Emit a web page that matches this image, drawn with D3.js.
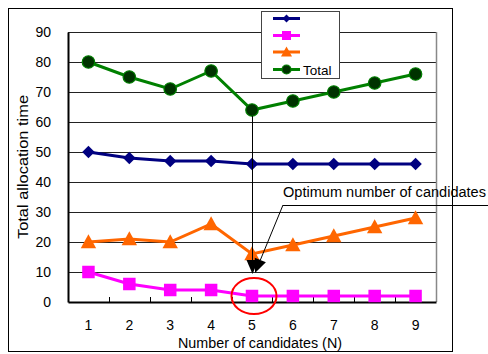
<!DOCTYPE html>
<html><head><meta charset="utf-8">
<script src="https://cdn.jsdelivr.net/npm/d3@7"></script>
<style>html,body{margin:0;padding:0;background:#fff}svg{display:block}</style>
</head><body>
<script>
const categories = [1,2,3,4,5,6,7,8,9];
const blueValues = [50,48,47,47,46,46,46,46,46];
const magentaValues = [10,6,4,4,2,2,2,2,2];
const orangeValues = [20,21,20,26,16,19,22,25,28];
const totalValues = [80,75,71,77,64,67,70,73,76];
const seriesNames = ["", "", "", "Total"];
const yTicks = [0,10,20,30,40,50,60,70,80,90];
const optimumN = 5;

const W = 488, H = 354;
const L = 68, R = 436, T = 32, B = 302;
const font = "'Liberation Sans', Arial, sans-serif";

const svg = d3.select("body").append("svg").attr("width", W).attr("height", H);
svg.append("rect").attr("width", W).attr("height", H).attr("fill", "#fff");
// outer frame
svg.append("rect").attr("x", 8.5).attr("y", 8.5).attr("width", 444).attr("height", 343)
  .attr("fill", "none").attr("stroke", "#000").attr("stroke-width", 1);

const x = d3.scaleBand().domain(categories).range([L, R]);
const y = d3.scaleLinear().domain([0, 90]).range([B, T]);
const cx = d => x(d) + x.bandwidth() / 2;

// gridlines
svg.append("g").selectAll("line").data(yTicks.filter(v => v > 0)).join("line")
  .attr("x1", L).attr("x2", R).attr("y1", d => Math.round(y(d)) + 0.5).attr("y2", d => Math.round(y(d)) + 0.5)
  .attr("stroke", "#222").attr("stroke-width", 1);
// right border (gray)
svg.append("line").attr("x1", R + 0.5).attr("x2", R + 0.5).attr("y1", T).attr("y2", B)
  .attr("stroke", "#888").attr("stroke-width", 1.5);

// y axis
const yAxis = d3.axisLeft(y).tickValues(yTicks).tickSize(0).tickPadding(17);
const gy = svg.append("g").attr("transform", `translate(${L},0)`).call(yAxis);
gy.select(".domain").attr("stroke", "#000").attr("stroke-width", 2);
gy.selectAll("text").attr("font-family", font).attr("font-size", 14).attr("fill", "#000");

// x axis
const xAxis = d3.axisBottom(x).tickSize(0).tickPadding(18);
const gx = svg.append("g").attr("transform", `translate(0,${B})`).call(xAxis);
gx.select(".domain").attr("stroke", "#000").attr("stroke-width", 2);
gx.selectAll("text").attr("font-family", font).attr("font-size", 14).attr("fill", "#000");
// inward ticks at band boundaries
svg.append("g").selectAll("line").data(categories.slice(1)).join("line")
  .attr("x1", d => Math.round(x(d)) + 0.5).attr("x2", d => Math.round(x(d)) + 0.5)
  .attr("y1", B).attr("y2", B - 5).attr("stroke", "#000").attr("stroke-width", 1);

// axis titles
svg.append("text").attr("x", (L + R) / 2 + 8).attr("y", 348).attr("text-anchor", "middle")
  .attr("font-family", font).attr("font-size", 14).attr("fill", "#000")
  .attr("textLength", 164).attr("lengthAdjust", "spacingAndGlyphs")
  .text("Number of candidates (N)");
svg.append("text").attr("transform", `translate(28,${(T + B) / 2}) rotate(-90)`)
  .attr("text-anchor", "middle").attr("font-family", font).attr("font-size", 15).attr("fill", "#000")
  .attr("textLength", 144).attr("lengthAdjust", "spacingAndGlyphs")
  .text("Total allocation time");

// series
const series = [
  {name: seriesNames[0], values: blueValues, color: "#000080", fill: "#000080", shape: "diamond"},
  {name: seriesNames[1], values: magentaValues, color: "#FF00FF", fill: "#FF00FF", shape: "square"},
  {name: seriesNames[2], values: orangeValues, color: "#FF6600", fill: "#FF6600", shape: "triangle"},
  {name: seriesNames[3], values: totalValues, color: "#008000", fill: "#003300", shape: "circle"}
];

function marker(g, shape, px, py, s, fill, stroke) {
  if (shape === "diamond") {
    g.append("path").attr("d", `M${px},${py - s/2}L${px + s/2},${py}L${px},${py + s/2}L${px - s/2},${py}Z`).attr("fill", fill);
  } else if (shape === "square") {
    g.append("rect").attr("x", px - s/2).attr("y", py - s/2).attr("width", s).attr("height", s).attr("fill", fill);
  } else if (shape === "triangle") {
    g.append("path").attr("d", `M${px},${py - s*0.55}L${px + s*0.55},${py + s*0.45}L${px - s*0.55},${py + s*0.45}Z`).attr("fill", fill);
  } else {
    g.append("circle").attr("cx", px).attr("cy", py).attr("r", s/2).attr("fill", fill)
      .attr("stroke", stroke).attr("stroke-width", 1.2);
  }
}

const line = d3.line().x((d, i) => cx(categories[i])).y(d => y(d));
series.forEach(s => {
  const g = svg.append("g");
  g.append("path").attr("d", line(s.values)).attr("fill", "none").attr("stroke", s.color).attr("stroke-width", 3);
  s.values.forEach((v, i) => marker(g, s.shape, cx(categories[i]), y(v), s.shape === "triangle" ? 14 : 12.5, s.fill, s.color));
});

// legend
const lg = svg.append("g");
lg.append("rect").attr("x", 261.5).attr("y", 11.5).attr("width", 78).attr("height", 67)
  .attr("fill", "#fff").attr("stroke", "#444").attr("stroke-width", 1);
const legY = [18.5, 35.5, 52, 69.5];
series.forEach((s, i) => {
  lg.append("line").attr("x1", 273).attr("x2", 300).attr("y1", legY[i]).attr("y2", legY[i])
    .attr("stroke", s.color).attr("stroke-width", 3);
  marker(lg, s.shape, 286.5, legY[i], s.shape === "diamond" ? 8 : (s.shape === "triangle" ? 10 : 9), s.fill, s.color);
  lg.append("text").attr("x", 303).attr("y", legY[i] + 5).attr("font-family", font).attr("font-size", 13.5)
    .attr("fill", "#000").text(s.name);
});

// annotations
const ax = cx(optimumN);
const tipY = 274;
function arrow(x1, y1, x2, y2) {
  const len = 14, hw = 6;
  const dx = x2 - x1, dy = y2 - y1, d = Math.hypot(dx, dy);
  const ux = dx / d, uy = dy / d;
  const bx = x2 - ux * len, by = y2 - uy * len;
  svg.append("line").attr("x1", x1).attr("y1", y1).attr("x2", bx).attr("y2", by)
    .attr("stroke", "#000").attr("stroke-width", 1);
  svg.append("path").attr("d", `M${x2},${y2}L${bx - uy * hw},${by + ux * hw}L${bx + uy * hw},${by - ux * hw}Z`)
    .attr("fill", "#000");
}
arrow(ax + 0.5, y(totalValues[optimumN - 1]) + 6, ax + 0.5, tipY);
arrow(283, 205, ax + 3, tipY - 1);
svg.append("line").attr("x1", 283).attr("x2", 488).attr("y1", 205.5).attr("y2", 205.5)
  .attr("stroke", "#000").attr("stroke-width", 1);
svg.append("text").attr("x", 283).attr("y", 197).attr("font-family", font).attr("font-size", 14)
  .attr("textLength", 203).attr("lengthAdjust", "spacingAndGlyphs")
  .attr("fill", "#000").text("Optimum number of candidates");
svg.append("ellipse").attr("cx", ax + 2).attr("cy", 296).attr("rx", 22.5).attr("ry", 18)
  .attr("fill", "none").attr("stroke", "#FF0000").attr("stroke-width", 2);
</script>
</body></html>
